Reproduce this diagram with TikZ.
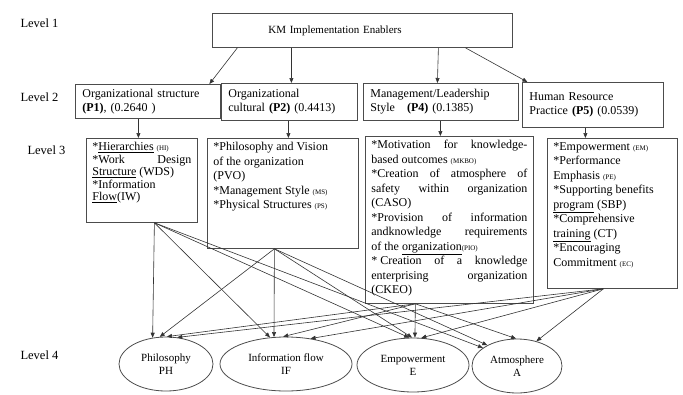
\documentclass[tikz,border=0pt]{standalone}
\usepackage{fontspec}
\setmainfont{Liberation Serif}
\usetikzlibrary{arrows.meta}
\usetikzlibrary{shapes.geometric}
\definecolor{boxgray}{gray}{0.3}
\definecolor{linegray}{gray}{0.2}
\tikzset{
	levellabel/.style={anchor=west, font=\fontsize{12.5}{14}\selectfont},
	pbox/.style={draw=boxgray, line width=0.8pt, anchor=north west, align=left, inner xsep=7pt, inner ysep=0pt, font=\fontsize{12}{14}\selectfont},
	subbox/.style={draw=boxgray, line width=0.8pt, anchor=north west, inner xsep=6pt, inner ysep=4pt, font=\fontsize{12}{14.5}\selectfont},
	factor/.style={ellipse, draw=boxgray, line width=0.8pt, align=center, inner sep=0pt, minimum height=54pt, font=\fontsize{11}{13}\selectfont},
	link/.style={draw=linegray, line width=0.6pt, -{Triangle[length=5pt, width=4pt]}}
}

\begin{document}
\begin{tikzpicture}[x=1pt, y=-1pt]
	\useasboundingbox (0,0) rectangle (683,394);
	
	% levels
	\node[levellabel] (lv1) at (17,23) {Level 1};
	\node[levellabel] (lv2) at (17,97) {Level 2};
	\node[levellabel] (lv3) at (24,150) {Level 3};
	\node[levellabel] (lv4) at (17,355) {Level 4};
	
	\node[pbox, inner xsep=56pt, text width=188pt, minimum height=34pt, font=\fontsize{11}{13}\selectfont] (km) at (212,13) {KM Implementation Enablers};
	
	\node[pbox, text width=131pt, minimum height=34pt] (p1) at (75,84) {Organizational structure\\\textbf{(P1)}, (0.2640 )};
	\node[pbox, text width=122pt, minimum height=37pt] (p2) at (221,83) {Organizational\\cultural \textbf{(P2)} (0.4413)};
	\node[pbox, text width=141pt, minimum height=37pt] (p4) at (363,83) {Management/Leadership\\Style\quad\textbf{(P4)} (0.1385)};
	\node[pbox, text width=127pt, minimum height=45pt] (p5) at (522,82) {Human Resource\\Practice \textbf{(P5)} (0.0539)};
	
	\node[subbox] (b1) at (86,138) {\parbox[c][76pt][t]{99pt}{\fontsize{12}{12.5}\selectfont
		{*}\underline{Hierarchies} {\scriptsize(HI)}\\
		{*}Work \hfill Design\\
		\underline{Structure} (WDS)\\
		{*}Information\\
		\underline{Flow}(IW)}};
	\node[subbox] (b2) at (207,138) {\parbox[c][102pt][t]{139pt}{
		{*}Philosophy and Vision\\
		of the organization\\
		(PVO)\\
		{*}Management Style {\scriptsize(MS)}\\
		{*}Physical Structures {\scriptsize(PS)}}};
	\node[subbox] (b3) at (365,136) {\parbox[c][159pt][t]{156pt}{
		{*}Motivation \hfill for \hfill knowledge-\\
		based outcomes {\scriptsize(MKBO)}\\
		{*}Creation \hfill of \hfill atmosphere \hfill of\\
		safety \hfill within \hfill organization\\
		(CASO)\\
		{*}Provision \hfill of \hfill information\\
		andknowledge \hfill requirements\\
		of the \underline{organization}{\scriptsize(PIO)}\\
		{*} Creation \hfill of \hfill a \hfill knowledge\\
		enterprising \hfill organization\\
		(CKEO)}};
	\node[subbox] (b4) at (547,138) {\parbox[c][142pt][t]{118pt}{
		{*}Empowerment {\scriptsize(EM)}\\
		{*}Performance\\
		\ Emphasis {\scriptsize(PE)}\\
		{*}Supporting benefits\\
		\underline{program} (SBP)\\
		{*}Comprehensive\\
		\underline{training} (CT)\\
		{*}Encouraging\\
		Commitment {\scriptsize(EC)}}};
	
	\node[factor, minimum width=94pt] (phil) at (166,364) {Philosophy\\PH};
	\node[factor, minimum width=132pt] (infl) at (286,364) {Information flow\\IF};
	\node[factor, minimum width=112pt] (empw) at (413,365) {Empowerment\\E};
	\node[factor, minimum width=90pt] (atmo) at (517,366) {Atmosphere\\A};
	
	% level 1 -> level 2
	\draw[link] ([xshift=-125pt]km.south) -- ([xshift=61.5pt]p1.north);
	\draw[link] ([xshift=-71pt]km.south) -- ([xshift=2pt]p2.north);
	\draw[link] ([xshift=76pt]km.south) -- ([xshift=-3.5pt]p4.north);
	\draw[link] ([xshift=103pt]km.south) -- ([xshift=-65.5pt]p5.north);
	
	% level 2 -> level 3
	\draw[link] ([xshift=-9.5pt]p1.south) -- ([xshift=-9.5pt]p1.south |- b1.north);
	\draw[link] ([xshift=-1pt]p2.south) -- ([xshift=-1pt]p2.south |- b2.north);
	\draw[link] ([xshift=-0.5pt]p4.south) -- ([xshift=-0.5pt]p4.south |- b3.north);
	\draw[link] ([xshift=-7.5pt]p5.south) -- ([xshift=-7.5pt]p5.south |- b4.north);
	
	% level 3 -> level 4
	\coordinate (b1s) at ([xshift=12.5pt]b1.south);
	\coordinate (b2s) at ([xshift=-8.5pt]b2.south);
	\coordinate (b3s) at ([xshift=-34pt]b3.south);
	\coordinate (b4s) at ([xshift=-9pt]b4.south);
	\foreach \src/\dst in {b1s/phil.117, b1s/infl.121, b1s/empw.98, b1s/atmo.152,
		b2s/phil.103, b2s/infl.114, b2s/empw.92, b2s/atmo.145,
		b3s/phil.88, b3s/infl.96, b3s/empw.86, b3s/atmo.92,
		b4s/phil.67, b4s/infl.46, b4s/empw.73, b4s/atmo.52}
	\draw[link] (\src) -- (\dst);
\end{tikzpicture}
\end{document}
